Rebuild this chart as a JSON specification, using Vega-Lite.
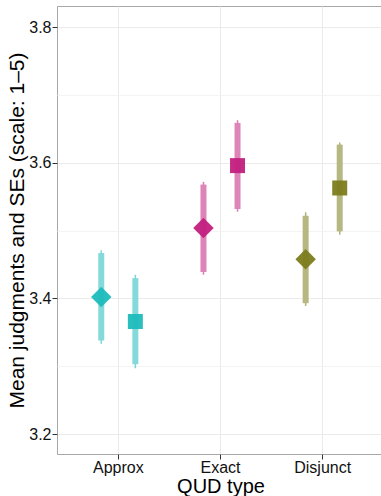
{
  "$schema": "https://vega.github.io/schema/vega-lite/v6.json",
  "width": 327,
  "height": 448,
  "autosize": "none",
  "padding": {"left": 57, "top": 6, "right": 0, "bottom": 42},
  "background": "white",
  "config": {
    "font": "Liberation Sans",
    "view": {"stroke": "#a8a8a8", "strokeWidth": 1},
    "axis": {
      "labelFont": "Liberation Sans",
      "titleFont": "Liberation Sans",
      "labelColor": "#111111",
      "titleColor": "#000000",
      "titleFontWeight": "normal",
      "tickColor": "#333333",
      "tickSize": 5,
      "domain": false,
      "gridColor": "#ebebeb",
      "gridWidth": 1
    }
  },
  "data": {
    "values": [
      {"QUD": "Approx", "cond": "A", "mean": 3.402, "lo": 3.338, "hi": 3.467, "lo_w": 3.333, "hi_w": 3.471},
      {"QUD": "Approx", "cond": "B", "mean": 3.366, "lo": 3.303, "hi": 3.430, "lo_w": 3.297, "hi_w": 3.435},
      {"QUD": "Exact", "cond": "A", "mean": 3.504, "lo": 3.439, "hi": 3.568, "lo_w": 3.435, "hi_w": 3.572},
      {"QUD": "Exact", "cond": "B", "mean": 3.596, "lo": 3.532, "hi": 3.659, "lo_w": 3.528, "hi_w": 3.663},
      {"QUD": "Disjunct", "cond": "A", "mean": 3.458, "lo": 3.393, "hi": 3.522, "lo_w": 3.389, "hi_w": 3.527},
      {"QUD": "Disjunct", "cond": "B", "mean": 3.563, "lo": 3.499, "hi": 3.627, "lo_w": 3.494, "hi_w": 3.630}
    ]
  },
  "encoding": {
    "x": {
      "field": "QUD",
      "type": "nominal",
      "sort": ["Approx", "Exact", "Disjunct"],
      "scale": {"type": "band", "paddingInner": 0, "paddingOuter": 0.1},
      "axis": {
        "title": "QUD type",
        "titleFontSize": 20,
        "titlePadding": 1,
        "labelFontSize": 16,
        "labelAngle": 0,
        "labelPadding": 0,
        "grid": true,
        "bandPosition": 0.5
      }
    },
    "xOffset": {
      "field": "cond",
      "type": "nominal",
      "sort": ["A", "B"],
      "scale": {"type": "point", "padding": 1.465}
    },
    "color": {
      "field": "QUD",
      "type": "nominal",
      "scale": {"domain": ["Approx", "Exact", "Disjunct"], "range": ["#1fbcbc", "#c21f7e", "#7c7c1c"]},
      "legend": null
    }
  },
  "layer": [
    {
      "mark": {"type": "rule", "strokeWidth": 1.5, "opacity": 0.6},
      "encoding": {
        "y": {
          "field": "lo_w",
          "type": "quantitative",
          "scale": {"domain": [3.1705, 3.8315], "nice": false, "zero": false},
          "axis": {
            "orient": "right",
            "values": [3.3, 3.5, 3.7],
            "labels": false,
            "ticks": false,
            "domain": false,
            "title": null,
            "grid": true,
            "gridColor": "#f4f4f4"
          }
        },
        "y2": {"field": "hi_w"}
      }
    },
    {
      "mark": {"type": "rule", "strokeWidth": 6, "opacity": 1},
      "encoding": {
        "y": {
          "field": "lo",
          "type": "quantitative",
          "axis": {
            "orient": "left",
            "values": [3.2, 3.4, 3.6, 3.8],
            "format": ".1f",
            "title": "Mean judgments and SEs (scale: 1\u20135)",
            "titleFontSize": 21,
            "titlePadding": 1,
            "labelFontSize": 16,
            "labelPadding": 1,
            "grid": true
          }
        },
        "y2": {"field": "hi"},
        "stroke": {
          "field": "QUD",
          "type": "nominal",
          "scale": {"domain": ["Approx", "Exact", "Disjunct"], "range": ["#84dada", "#dd84b8", "#b7b782"]},
          "legend": null
        }
      }
    },
    {
      "mark": {"type": "point", "filled": true, "opacity": 0.95},
      "encoding": {
        "y": {"field": "mean", "type": "quantitative", "axis": null},
        "shape": {
          "field": "cond",
          "type": "nominal",
          "scale": {"domain": ["A", "B"], "range": ["diamond", "square"]},
          "legend": null
        },
        "size": {
          "field": "cond",
          "type": "nominal",
          "scale": {"domain": ["A", "B"], "range": [420, 225]},
          "legend": null
        }
      }
    }
  ],
  "resolve": {"axis": {"y": "independent"}}
}
